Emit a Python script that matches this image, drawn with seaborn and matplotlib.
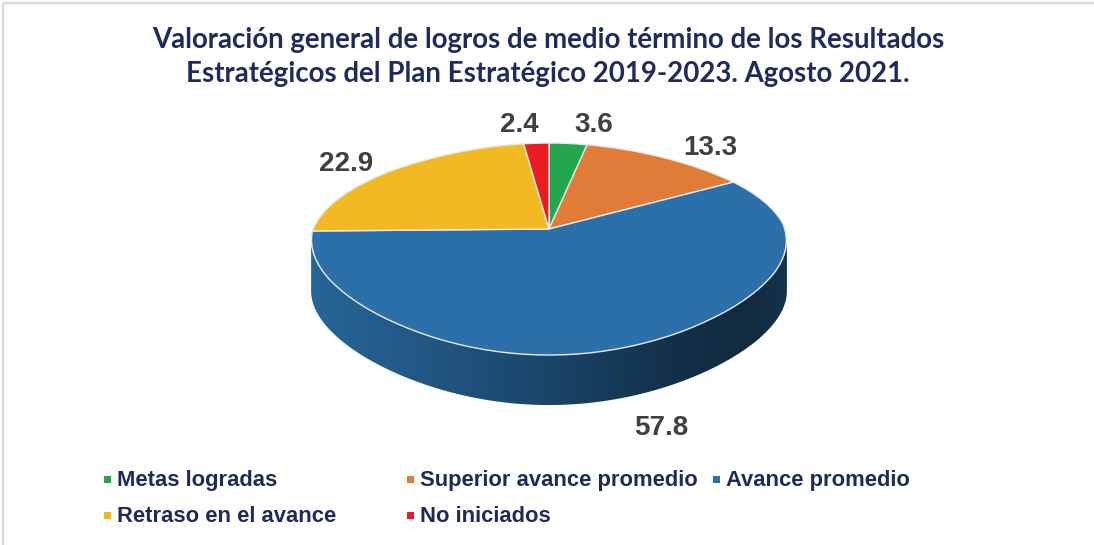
import numpy as np
import matplotlib
matplotlib.use("Agg")
import matplotlib.pyplot as plt
import seaborn as sns
from matplotlib.colors import to_rgb
from matplotlib.patches import Polygon, Rectangle
from matplotlib.transforms import Transform

sns.set_theme(style="white")
plt.rcParams["font.family"] = ["Liberation Sans", "DejaVu Sans"]

# ---- data ----
categories = ["Metas logradas", "Superior avance promedio", "Avance promedio",
              "Retraso en el avance", "No iniciados"]
values = [3.6, 13.3, 57.8, 22.9, 2.4]
colors = ["#22A74F", "#E17B38", "#2B70AA", "#F2B922", "#EC1C24"]
title_lines = ["Valoración general de logros de medio término de los Resultados",
               "Estratégicos del Plan Estratégico 2019-2023. Agosto 2021."]

palette = sns.color_palette(colors)

# ---- layout (pixels) ----
W, H = 1094, 545
cx, cy = 549, 229        # centre (apex) of the top face
rx, ry = 236, 106        # semi-axes of the top face
depth = 50               # thickness of the disc
k_y = 0.189              # far half of the disc looks shorter ...
k_x = 0.29               # ... and narrower than the near half
TITLE_C = "#1F2B5C"
LABEL_C = "#404040"
LEGEND_C = "#1F2A5A"


def perspective(x, y):
    x = np.asarray(x, dtype=float)
    y = np.asarray(y, dtype=float)
    return x * (1 - k_x * (y + y ** 2) / 2), y - k_y * y ** 2


class Perspective(Transform):
    """Simple foreshortening of the unit disc."""
    input_dims = output_dims = 2

    def transform_non_affine(self, values):
        v = np.asarray(values, dtype=float)
        return np.column_stack(perspective(v[:, 0], v[:, 1]))


fig = plt.figure(figsize=(W / 100, H / 100), dpi=100)
fig.patch.set_facecolor("white")

# pie axes: x unit = rx pixels, y unit = ry pixels -> tilted disc
pax = fig.add_axes([0, 0, 1, 1], zorder=2)
wedges, _ = pax.pie(values, colors=palette, startangle=90, counterclock=False,
                    radius=1, wedgeprops=dict(edgecolor="#e9e9e9", linewidth=1.0))
persp = Perspective()
for w in wedges:
    w.set_transform(persp + pax.transData)
    w.set_zorder(2)

# silhouette of the rim: the side is visible between its left- and rightmost points
rim_t = np.linspace(-180, 0, 3601)
rim_x, _ = perspective(np.cos(np.radians(rim_t)), np.sin(np.radians(rim_t)))
t_left, t_right = rim_t[np.argmin(rim_x)], rim_t[np.argmax(rim_x)]

# side of the disc: visible front part of each wedge, shaded with a gradient
d = depth / ry
xs = np.linspace(-1, 1, 400)
factor = np.interp(xs, [-1.0, -0.6, 0.0, 0.5, 0.85, 1.0],
                   [0.90, 0.80, 0.62, 0.43, 0.38, 0.46])
for w in wedges:
    t = np.linspace(w.theta1, w.theta2, 800)
    tn = (t + 180) % 360 - 180
    vis = (tn >= t_left) & (tn <= t_right)
    if vis.sum() < 2:
        continue
    tt = np.radians(t[vis])
    top = np.column_stack(perspective(np.cos(tt), np.sin(tt)))
    bot = top - np.array([0, d])
    poly = Polygon(np.vstack([top, bot[::-1]]), closed=True, facecolor="none",
                   edgecolor="none", transform=pax.transData)
    pax.add_patch(poly)
    base = np.array(to_rgb(w.get_facecolor()))
    img = (base[None, :] * factor[:, None])[None, :, :]
    im = pax.imshow(np.clip(img, 0, 1), extent=[-1.02, 1.02, -1.3 - d, 0.1],
                    aspect="auto", interpolation="bilinear", zorder=1)
    im.set_clip_path(poly)

pax.set_aspect("auto")
pax.set_xlim(-cx / rx, (W - cx) / rx)
pax.set_ylim(-(H - cy) / ry, cy / ry)
pax.axis("off")

# overlay axes in image pixel coordinates for text
ov = fig.add_axes([0, 0, 1, 1], zorder=3)
ov.set_xlim(0, W)
ov.set_ylim(H, 0)
ov.axis("off")
ov.patch.set_alpha(0)

# chart frame
ov.add_patch(Rectangle((3, 3), W, H, fill=False, edgecolor="#d9d9d9", lw=1.6))

# title, fitted to the width of the first line
t_objs = []
for line, yb in zip(title_lines, [48, 82]):
    t_objs.append(ov.text(548, yb, line, ha="center", va="baseline", fontsize=19,
                          fontweight="bold", color=TITLE_C,
                          family=["Lato", "DejaVu Sans"]))
fig.canvas.draw()
rend = fig.canvas.get_renderer()
w1 = t_objs[0].get_window_extent(rend).width
for t in t_objs:
    t.set_fontsize(19 * 792 / w1)

# value labels next to each wedge (offsets in pixels from the rim point)
label_offsets = [(26, -11), (49, -2), (50, 35), (-50, 2), (-17, -11)]
for w, v, (dx, dy) in zip(wedges, values, label_offsets):
    mid = np.radians((w.theta1 + w.theta2) / 2)
    px, py = perspective(np.cos(mid), np.sin(mid))
    x = cx + rx * px
    y = cy - ry * py
    if np.sin(mid) < 0:
        y += depth
    ov.text(x + dx, y + dy, f"{v:.1f}", ha="center", va="baseline",
            fontsize=20, fontweight="bold", color=LABEL_C)

# legend laid out row by row
col_x = [107, 410, 716]
row_y = [479, 515]
for i, (cat, col) in enumerate(zip(categories, palette)):
    r, c = divmod(i, 3)
    x, y = col_x[c], row_y[r]
    ov.add_patch(Rectangle((x - 3.5, y - 3.5), 7, 7, facecolor=col, edgecolor="none"))
    ov.text(x + 10, y + 7, cat, ha="left", va="baseline", fontsize=15.8,
            fontweight="bold", color=LEGEND_C)

fig.savefig("out.png", dpi=100, facecolor="white")
